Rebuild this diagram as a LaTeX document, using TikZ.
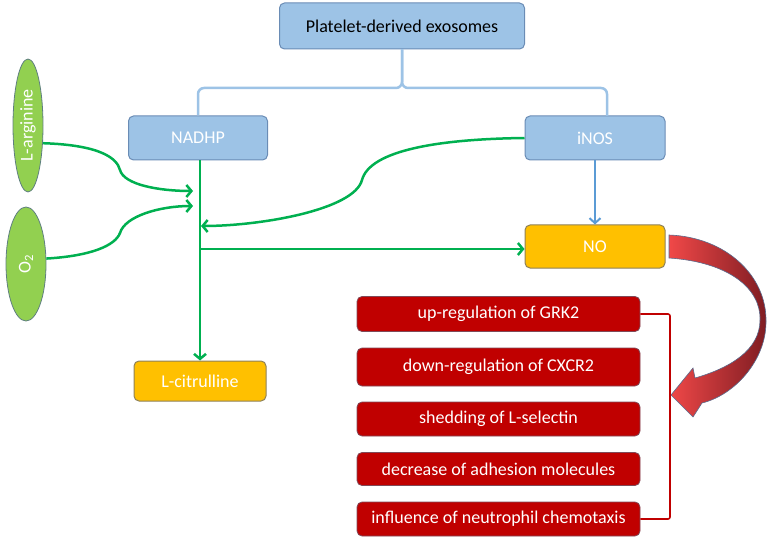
\documentclass[tikz,border=0pt]{standalone}
\usepackage{fontspec}
\setmainfont{Carlito}
\usepackage{xcolor}
\usetikzlibrary{arrows.meta}
\usetikzlibrary{shapes.geometric}
\definecolor{boxBlueColor}{HTML}{9DC3E6}
\definecolor{boxBlueEdgeColor}{HTML}{6A8CB5}
\definecolor{boxOrangeColor}{HTML}{FFC000}
\definecolor{boxOrangeEdgeColor}{HTML}{8E8159}
\definecolor{boxRedColor}{HTML}{C00000}
\definecolor{boxRedEdgeColor}{HTML}{7F4A58}
\definecolor{ovalGreenColor}{HTML}{92D050}
\definecolor{ovalGreenEdgeColor}{HTML}{5F7F80}
\definecolor{linkGreenColor}{HTML}{00B050}
\definecolor{linkBlueColor}{HTML}{5B9BD5}
\definecolor{braceBlueColor}{HTML}{9DC3E6}
\definecolor{bracketRedColor}{HTML}{C00000}
\definecolor{bigArrowLightColor}{HTML}{F04848}
\definecolor{bigArrowDarkColor}{HTML}{7E1C22}
\definecolor{bigArrowEdgeColor}{HTML}{5A6A8C}
\def\boxFont{\fontsize{18bp}{21bp}\selectfont}

\tikzset{
  blueBox/.style={draw=boxBlueEdgeColor, fill=boxBlueColor, line width=1bp,
    rounded corners=5bp, inner sep=0pt, minimum width=139bp,
    minimum height=44bp, text=white, font=\boxFont},
  orangeBox/.style={draw=boxOrangeEdgeColor, fill=boxOrangeColor, line width=1bp,
    rounded corners=5bp, inner sep=0pt, minimum width=140bp,
    minimum height=43bp, text=white, font=\boxFont},
  redBox/.style={draw=boxRedEdgeColor, fill=boxRedColor, line width=0.8bp,
    rounded corners=5bp, inner sep=0pt, minimum width=283bp,
    minimum height=35bp, text=white, font=\boxFont},
  greenOval/.style={ellipse, draw=ovalGreenEdgeColor, fill=ovalGreenColor,
    line width=0.8bp, inner sep=0pt, rotate=90, text=white, font=\boxFont},
  greenLink/.style={draw=linkGreenColor, line width=2.5bp,
    -{Straight Barb[length=5bp,width=12bp]}},
  blueLink/.style={draw=linkBlueColor, line width=2bp,
    -{Straight Barb[length=5bp,width=11bp]}},
  braceLine/.style={draw=braceBlueColor, line width=2.5bp, rounded corners=6bp},
  redBracket/.style={draw=bracketRedColor, line width=1.6bp, rounded corners=2bp}
}

\begin{document}
\begin{tikzpicture}[x=1bp,y=-1bp]
\useasboundingbox (0, 0) rectangle (770, 541);

% box layer
\begin{scope}
\node (exo) [blueBox, minimum width=245bp, minimum height=46bp, text=black]
  at (402, 26) {Platelet-derived exosomes};
\node (nadhp) [blueBox] at (198, 138) {NADHP};
\node (inos) [blueBox, minimum width=140bp] at (595, 138) {iNOS};
\node (no) [orangeBox] at (595, 246.5) {NO};
\node (lcit) [orangeBox, minimum width=132bp, minimum height=40bp]
  at (200, 381) {L-citrulline};
\end{scope}

% oval layer
\begin{scope}
\node (larg) [greenOval, minimum width=133bp, minimum height=30bp]
  at (28, 125.5) {L-arginine};
\node (oxy) [greenOval, minimum width=114bp, minimum height=40bp]
  at (26, 264) {O\textsubscript{2}};
\end{scope}

% effect layer
\begin{scope}
\node (upGrk) [redBox] at (498.5, 314) {up-regulation of GRK2};
\node (downCxcr) [redBox, minimum height=38bp] at (498.5, 367) {down-regulation of CXCR2};
\node (shedSel) [redBox, minimum height=34bp] at (498.5, 419) {shedding of L-selectin};
\node (adhMol) [redBox, minimum height=33bp] at (498.5, 469) {decrease of adhesion molecules};
\node (chemo) [redBox, minimum height=34bp] at (498.5, 519) {influence of neutrophil chemotaxis};
\end{scope}

% link layer
\begin{scope}
\coordinate (exoFork) at (402, 88);
\coordinate (inosTop) at (607, 116);
\draw[braceLine] (nadhp.north) |- (exoFork) -- (exo.south);
\draw[braceLine] (inosTop) |- (exoFork) -- (exo.south);

\coordinate (argIn) at (193, 191);
\coordinate (oxyIn) at (193, 206);
\coordinate (inosIn) at (201, 226);
\coordinate (noSplit) at (200, 249);
\draw[greenLink] (larg.-140) .. controls
(100, 145) and (117, 158) .. (120, 170) .. controls
(124, 185) and (160, 191) .. (argIn);
\draw[greenLink] (oxy.-75) .. controls
(90, 256) and (115, 246) .. (120, 233) .. controls
(125, 216) and (160, 206) .. (oxyIn);
\draw[greenLink] (inos.west) .. controls
(440, 139) and (370, 150) .. (362, 180) .. controls
(354, 210) and (260, 226) .. (inosIn);
\draw[greenLink] (lcit.north |- nadhp.south) -- (lcit.north);
\draw[greenLink] (noSplit) -- (noSplit -| no.west);
\draw[blueLink] (inos.south) -- (no.north);

\coordinate (effBrk) at (670, 415);
\draw[redBracket] (upGrk.east) -| (effBrk) |- (chemo.east);
\end{scope}

% big arrow
\shadedraw[left color=bigArrowLightColor, right color=bigArrowDarkColor,
  draw=bigArrowEdgeColor, line width=0.6bp]
(669, 235) .. controls (725, 237) and (767, 275) .. (766, 322)
.. controls (766, 360) and (735, 395) .. (702, 403)
-- (693, 417) -- (671, 395) -- (693, 368) -- (695, 378)
.. controls (730, 368) and (760, 350) .. (760, 320)
.. controls (761, 288) and (728, 262) .. (669, 258) -- cycle;

\end{tikzpicture}
\end{document}
